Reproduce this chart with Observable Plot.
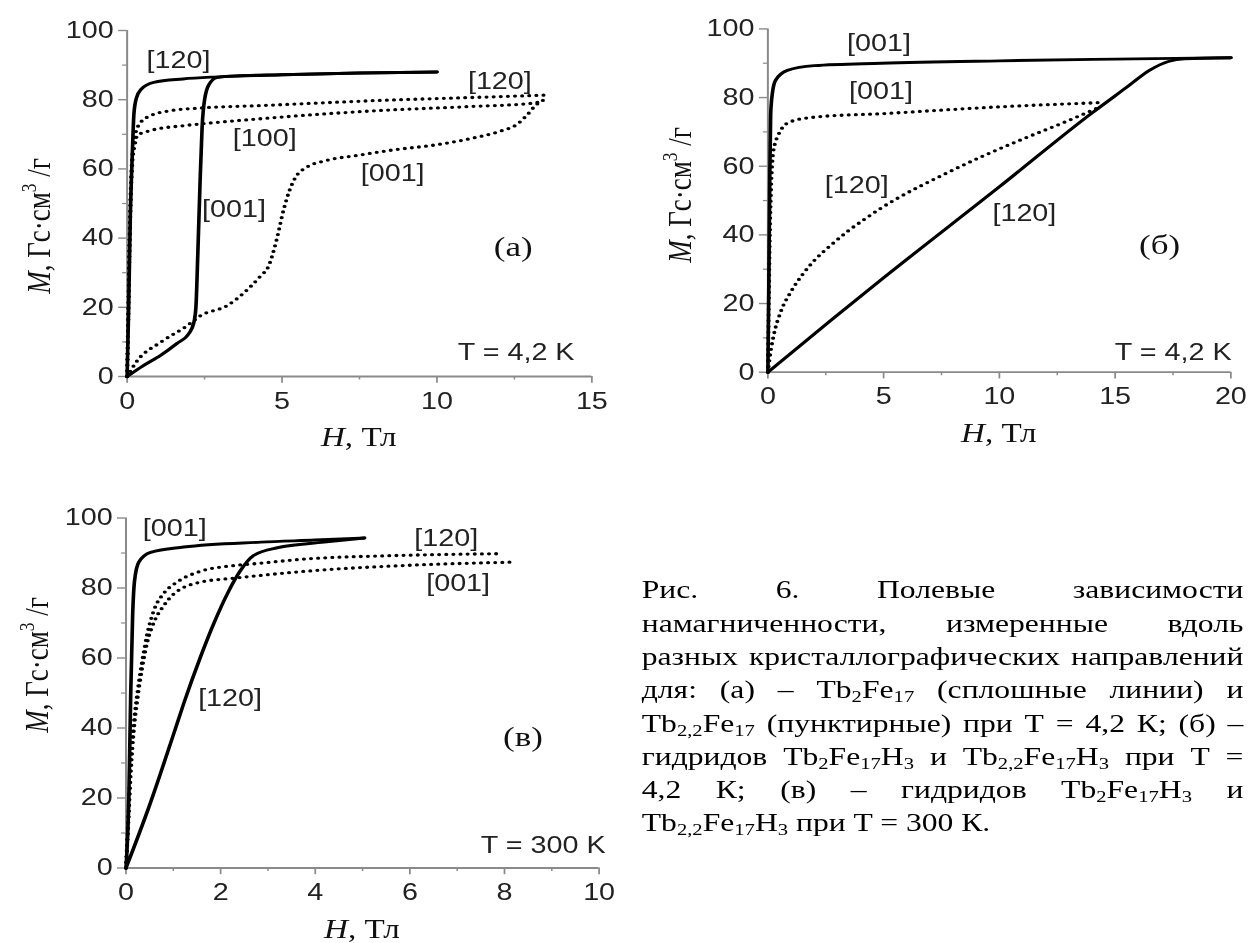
<!DOCTYPE html>
<html><head><meta charset="utf-8">
<script src="https://cdn.jsdelivr.net/npm/d3@7"></script>
<script src="https://cdn.jsdelivr.net/npm/@observablehq/plot@0.6"></script>
<style>
html,body{margin:0;padding:0;background:#fff;overflow:hidden;}
#page{position:relative;width:1002.4px;height:943px;transform:scaleX(1.25);transform-origin:0 0;}
.panel{position:absolute;}
.panel svg{overflow:visible;}
#caption{position:absolute;left:513.4px;top:573.4px;width:481.4px;font-family:"Liberation Serif","Times New Roman",serif;font-size:25.3px;line-height:33.3px;color:#000;}
#caption .ln{display:flex;justify-content:space-between;white-space:nowrap;height:33.3px;}
#caption .last{white-space:nowrap;height:33.3px;}
#caption sub{font-size:16.5px;vertical-align:-4px;line-height:0;}
</style></head><body>
<div id="page">
  <div id="pa" class="panel" style="left:0;top:0"></div>
  <div id="pb" class="panel" style="left:510px;top:0"></div>
  <div id="pc" class="panel" style="left:0;top:470px"></div>
  <div id="caption"></div>
</div>
<script>
// ---------- data: [H (Тл), M (Гс·см³/г)] ----------
// panel (a) T = 4.2 K
const aSolid120 = [[0,0],[0.05,20],[0.1,45],[0.17,65],[0.22,76],[0.3,80.5],[0.45,83],[0.86,85],[1.8,86],[2.9,86.6],[5,87.2],[7.5,87.7],[10,88]];
const aSolid001 = [[0,0],[0.5,3],[1.08,6.1],[1.6,9.5],[2.0,12.5],[2.15,15.5],[2.22,20],[2.28,35],[2.35,55],[2.42,72],[2.5,80],[2.65,84.5],[2.9,86.4],[3.5,86.9],[5,87.2],[7.5,87.7],[10,88]];
const aDot120 = [[0,0],[0.04,20],[0.08,40],[0.12,55],[0.17,64],[0.25,69.5],[0.44,73.5],[0.76,75.4],[1.3,76.7],[2.37,77.6],[4.3,78.3],[8.2,79.8],[11,80.6],[13.1,81.2],[13.46,81.3]];
const aDot100 = [[0,0],[0.04,18],[0.08,38],[0.12,52],[0.17,62],[0.25,67],[0.33,69.7],[0.76,71.1],[1.83,72.5],[2.37,73],[4.3,74.5],[8.2,76.9],[11,78],[13.1,79],[13.46,79.6]];
const aDot001 = [[0,0],[0.33,4.6],[1.08,9.9],[1.94,14.7],[2.37,17.6],[3.23,20.5],[3.95,25.7],[4.3,29],[4.57,32],[4.81,39],[5.06,48.5],[5.25,54],[5.43,57.5],[5.8,60.5],[6.42,62.4],[7.5,64],[8.6,65.5],[10,67],[11.1,68.8],[12,70.8],[12.6,73],[12.9,75.5],[13.2,78.5],[13.46,80]];
// panel (б) T = 4.2 K
const bSolid001 = [[0,0],[0.04,25],[0.08,55],[0.12,75],[0.2,81.5],[0.33,85],[0.84,87.9],[2,89.3],[4.9,90],[10,90.7],[15,91.2],[20,91.6]];
const bSolid120 = [[0,0],[2.7,15],[5,27.5],[10,54],[14,75.5],[15.5,83],[16.5,88],[17.3,90.5],[18,91.3],[20,91.6]];
const bDot001 = [[0,0],[0.04,20],[0.08,38],[0.13,52],[0.2,62],[0.3,66.5],[0.41,68.5],[0.91,72.8],[2,74.3],[4.9,75.3],[10,77.3],[14.26,78.5]];
const bDot120 = [[0,0],[0.12,6],[0.26,11],[0.55,17.5],[1,23.5],[1.5,28.5],[2,32.5],[2.72,37],[3.44,41],[4.16,44.5],[4.82,47.5],[5.48,50.2],[7.57,57.5],[9.3,63],[11.04,68],[12.8,72.8],[14.26,77]];
// panel (в) T = 300 K
const cSolid001 = [[0,0],[0.06,20],[0.1,50],[0.14,72],[0.18,82],[0.27,87.4],[0.52,90.2],[1.22,91.7],[2.85,93.1],[4,93.7],[5.04,94.3]];
const cSolid120 = [[0,0],[0.5,18],[1.0,38],[1.22,47],[1.58,60.5],[1.86,70],[2.14,78.3],[2.42,85],[2.7,89.3],[3.2,91.5],[4.19,93.1],[5.04,94.3]];
const cDot120 = [[0,0],[0.05,15],[0.1,30],[0.17,42],[0.24,50],[0.34,59],[0.45,67],[0.6,74],[0.8,78.5],[1.08,81.7],[1.58,84.8],[2.28,86.4],[2.77,87],[3.8,88.3],[5.5,89.2],[7.88,89.8]];
const cDot001 = [[0,0],[0.05,13],[0.1,27],[0.17,40],[0.24,48],[0.34,57],[0.45,64.5],[0.6,70.5],[0.8,75],[1.01,78.3],[1.58,81.7],[2.28,82.8],[2.77,83.5],[4,85],[6,86.5],[8.2,87.4]];

// ---------- ticks ----------
const yMajor = [0,20,40,60,80,100];
const yMinor = [10,30,50,70,90];
const aXMajor = [0,5,10,15], aXMinor = [2.5,7.5,12.5];
const bXMajor = [0,5,10,15,20], bXMinor = [2.5,7.5,12.5,17.5];
const cXMajor = [0,2,4,6,8,10], cXMinor = [1,3,5,7,9];

// ---------- annotations ----------
const aLabels = [{h:1.66,m:91.3,t:"[120]"},{h:12.03,m:85.1,t:"[120]"},{h:4.44,m:68.7,t:"[100]"},{h:8.57,m:58.6,t:"[001]"},{h:3.45,m:48.1,t:"[001]"}];
const bLabels = [{h:4.8,m:95.7,t:"[001]"},{h:4.89,m:81.6,t:"[001]"},{h:3.84,m:54.4,t:"[120]"},{h:11.08,m:46.1,t:"[120]"}];
const cLabels = [{h:1.03,m:96.9,t:"[001]"},{h:6.77,m:94.1,t:"[120]"},{h:7.02,m:81.2,t:"[001]"},{h:2.2,m:48.3,t:"[120]"}];
const aLetter = [{h:12.46,m:37.4,t:"(a)"}], bLetter = [{h:16.92,m:36.9,t:"(б)"}], cLetter = [{h:8.39,m:37.4,t:"(в)"}];
const aTemp = [{h:14.44,m:7.0,t:"T = 4,2 K"}], bTemp = [{h:20.03,m:5.8,t:"T = 4,2 K"}], cTemp = [{h:7.5,m:6.4,t:"T = 300 K"}];

const captionLines = [
  ["Рис.","6.","Полевые","зависимости"],
  ["намагниченности,","измеренные","вдоль"],
  ["разных","кристаллографических","направлений"],
  ["для:","(а)","–","Tb<sub>2</sub>Fe<sub>17</sub>","(сплошные","линии)","и"],
  ["Tb<sub>2,2</sub>Fe<sub>17</sub>","(пунктирные)","при","T","=","4,2","К;","(б)","–"],
  ["гидридов","Tb<sub>2</sub>Fe<sub>17</sub>H<sub>3</sub>","и","Tb<sub>2,2</sub>Fe<sub>17</sub>H<sub>3</sub>","при","T","="],
  ["4,2","К;","(в)","–","гидридов","Tb<sub>2</sub>Fe<sub>17</sub>H<sub>3</sub>","и"]
];
const captionLast = "Tb<sub>2,2</sub>Fe<sub>17</sub>H<sub>3</sub> при T = 300 К.";

// ---------- drawing ----------
const AX = "#8a8a8a", TXT = "#222";
const SANS = "Liberation Sans, Arial, sans-serif", SERIF = "Liberation Serif, Times New Roman, serif";

function panel(el, o) {
  const lines = o.curves.map(c => Plot.line(c.data, {
    x: d => d[0], y: d => d[1], curve: "monotone-x", stroke: "#000",
    strokeWidth: c.dotted ? 3.3 : 2.9,
    strokeDasharray: c.dotted ? "0 5.7" : null,
    strokeLinecap: "round", strokeLinejoin: "round"
  }));
  const svg = Plot.plot({
    width: o.width, height: o.height,
    marginLeft: o.ml, marginRight: o.mr, marginTop: o.mt, marginBottom: o.mb,
    style: {fontFamily: SANS, fontSize: "23px", color: TXT, background: "transparent", overflow: "visible"},
    x: {domain: [0, o.xmax], label: null},
    y: {domain: [0, 100], label: null},
    marks: [
      Plot.ruleY([0], {x1: 0, x2: o.xmax, stroke: AX, strokeWidth: 1.8}),
      Plot.ruleX([0], {y1: 0, y2: 100, stroke: AX, strokeWidth: 1.6}),
      Plot.axisX({ticks: o.xMajor, tickSize: 6.7, tickPadding: 9, stroke: AX, fill: TXT, strokeWidth: 1.4, fontSize: 23, label: null, tickFormat: d => String(d)}),
      Plot.axisX({ticks: o.xMinor, tickSize: 3.5, stroke: AX, strokeWidth: 1.2, label: null, tickFormat: () => ""}),
      Plot.axisY({ticks: yMajor, tickSize: 6.7, tickPadding: 4, stroke: AX, fill: TXT, strokeWidth: 1.4, fontSize: 23, label: null, tickFormat: d => String(d)}),
      Plot.axisY({ticks: yMinor, tickSize: 3.5, stroke: AX, strokeWidth: 1.2, label: null, tickFormat: () => ""}),
      ...lines,
      Plot.text(o.labels, {x: "h", y: "m", text: "t", fill: TXT, fontSize: 23, fontFamily: SANS}),
      Plot.text(o.letter, {x: "h", y: "m", text: "t", fill: "#111", fontSize: 28, fontFamily: SERIF}),
      Plot.text(o.temp, {x: "h", y: "m", text: "t", fill: TXT, fontSize: 23, fontFamily: SANS, textAnchor: o.tempAnchor})
    ]
  });
  const s = d3.select(svg);
  // y-axis title
  const yt = s.append("text")
    .attr("transform", `translate(${o.yt[0]},${o.yt[1]}) rotate(-90)`)
    .attr("text-anchor", "middle").attr("font-family", SERIF).attr("font-size", 27).attr("fill", "#111");
  yt.append("tspan").attr("font-style", "italic").text("M");
  yt.append("tspan").text(", Гс·см");
  yt.append("tspan").attr("font-size", 17.5).attr("dy", -11).text("3");
  yt.append("tspan").attr("dy", 11).text(" /г");
  // x-axis title
  const xt = s.append("text").attr("x", o.xt[0]).attr("y", o.xt[1])
    .attr("text-anchor", "middle").attr("font-family", SERIF).attr("font-size", 26.5).attr("fill", "#111");
  xt.append("tspan").attr("font-style", "italic").text("H");
  xt.append("tspan").text(", Тл");
  el.appendChild(svg);
}

panel(document.getElementById("pa"), {
  width: 510, height: 460, ml: 101.2, mr: 37, mt: 30, mb: 84, xmax: 15,
  xMajor: aXMajor, xMinor: aXMinor,
  curves: [{data: aSolid120}, {data: aSolid001}, {data: aDot120, dotted: true}, {data: aDot100, dotted: true}, {data: aDot001, dotted: true}],
  labels: aLabels, letter: aLetter, temp: aTemp, tempAnchor: "end",
  yt: [40, 226], xt: [287, 446.5]
});
panel(document.getElementById("pb"), {
  width: 492, height: 460, ml: 103.8, mr: 17.8, mt: 28.4, mb: 88.3, xmax: 20,
  xMajor: bXMajor, xMinor: bXMinor,
  curves: [{data: bSolid001}, {data: bSolid120}, {data: bDot001, dotted: true}, {data: bDot120, dotted: true}],
  labels: bLabels, letter: bLetter, temp: bTemp, tempAnchor: "end",
  yt: [42.5, 195], xt: [289, 442]
});
panel(document.getElementById("pc"), {
  width: 510, height: 473, ml: 100.3, mr: 31.2, mt: 47.5, mb: 75.5, xmax: 10,
  xMajor: cXMajor, xMinor: cXMinor,
  curves: [{data: cSolid001}, {data: cSolid120}, {data: cDot120, dotted: true}, {data: cDot001, dotted: true}],
  labels: cLabels, letter: cLetter, temp: cTemp, tempAnchor: "start",
  yt: [38.4, 195], xt: [289.5, 468]
});

const cap = document.getElementById("caption");
for (const words of captionLines) {
  const ln = document.createElement("div");
  ln.className = "ln";
  ln.innerHTML = words.map(w => `<span>${w}</span>`).join("");
  cap.appendChild(ln);
}
const last = document.createElement("div");
last.className = "last";
last.innerHTML = captionLast;
cap.appendChild(last);
</script>
</body></html>
